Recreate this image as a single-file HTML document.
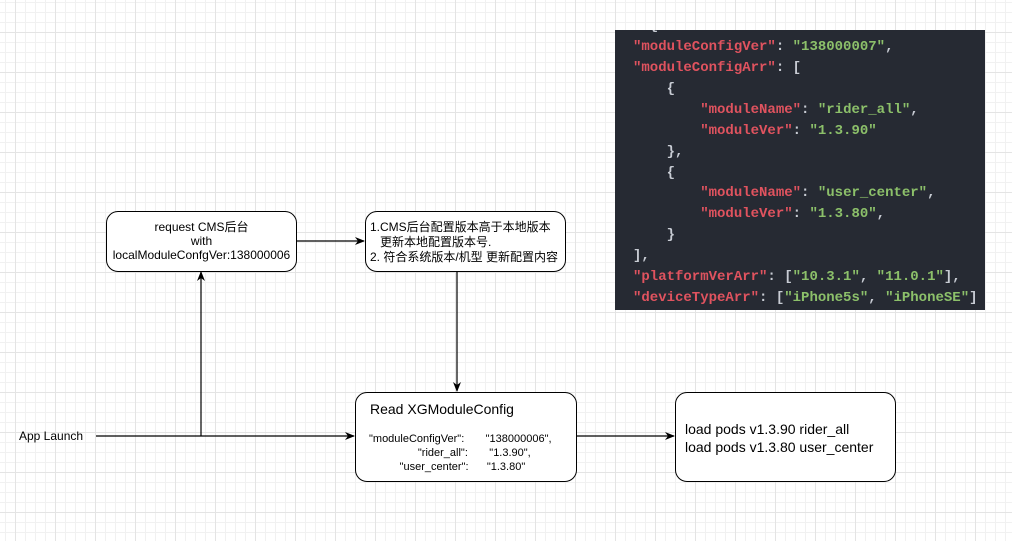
<!DOCTYPE html>
<html><head><meta charset="utf-8"><style>
html,body{margin:0;padding:0}
body{width:1012px;height:541px;position:relative;overflow:hidden;background:#fff;
background-image:
linear-gradient(to right,#e4e4e4 1px,transparent 1px),
linear-gradient(to bottom,#e4e4e4 1px,transparent 1px),
linear-gradient(to right,#f1f1f1 1px,transparent 1px),
linear-gradient(to bottom,#f1f1f1 1px,transparent 1px);
background-size:40px 40px,40px 40px,10px 10px,10px 10px;
background-position:15px 32px,15px 32px,5px 2px,5px 2px;
font-family:"Liberation Sans","Noto Sans CJK SC",sans-serif;color:#000}
.box{position:absolute;border:1px solid #000;border-radius:12px;background:#fff;box-sizing:border-box}
.t{position:absolute;white-space:pre;font-size:12px}
.code{position:absolute;left:615px;top:30px;width:370px;height:280px;background:#262a33;overflow:hidden;
font-family:"Liberation Mono","DejaVu Sans Mono",monospace;font-size:14px;font-weight:bold;line-height:20.9px}
.code div{position:absolute;left:0;white-space:pre}
.k{color:#e0535f}.s{color:#8cc06a}.p{color:#c8ccd4}
</style></head><body>
<div class="code">
<div style="top:-14px;left:18px"><span class="p">  {</span></div>
<div style="top:7px;left:18px"><span class="k">"moduleConfigVer"</span><span class="p">: </span><span class="s">"138000007"</span><span class="p">,</span></div>
<div style="top:28px;left:18px"><span class="k">"moduleConfigArr"</span><span class="p">: [</span></div>
<div style="top:49px;left:18px"><span class="p">    {</span></div>
<div style="top:70px;left:18px"><span class="p">        </span><span class="k">"moduleName"</span><span class="p">: </span><span class="s">"rider_all"</span><span class="p">,</span></div>
<div style="top:91px;left:18px"><span class="p">        </span><span class="k">"moduleVer"</span><span class="p">: </span><span class="s">"1.3.90"</span></div>
<div style="top:112px;left:18px"><span class="p">    },</span></div>
<div style="top:133px;left:18px"><span class="p">    {</span></div>
<div style="top:153px;left:18px"><span class="p">        </span><span class="k">"moduleName"</span><span class="p">: </span><span class="s">"user_center"</span><span class="p">,</span></div>
<div style="top:174px;left:18px"><span class="p">        </span><span class="k">"moduleVer"</span><span class="p">: </span><span class="s">"1.3.80"</span><span class="p">,</span></div>
<div style="top:195px;left:18px"><span class="p">    }</span></div>
<div style="top:216px;left:18px"><span class="p">],</span></div>
<div style="top:237px;left:18px"><span class="k">"platformVerArr"</span><span class="p">: [</span><span class="s">"10.3.1"</span><span class="p">, </span><span class="s">"11.0.1"</span><span class="p">],</span></div>
<div style="top:258px;left:18px"><span class="k">"deviceTypeArr"</span><span class="p">: [</span><span class="s">"iPhone5s"</span><span class="p">, </span><span class="s">"iPhoneSE"</span><span class="p">]</span></div>
</div>

<svg style="position:absolute;left:0;top:0" width="1012" height="541">
<defs><marker id="a" markerWidth="10" markerHeight="8" refX="9" refY="4" orient="auto" markerUnits="userSpaceOnUse"><path d="M0,0 L10,4 L0,8 L3,4 z" fill="#000"/></marker></defs>
<g stroke="#000" stroke-width="1.2" fill="none">
<line x1="96" y1="436" x2="354" y2="436" marker-end="url(#a)"/>
<line x1="201" y1="436" x2="201" y2="272" marker-end="url(#a)"/>
<line x1="296" y1="241" x2="364" y2="241" marker-end="url(#a)"/>
<line x1="457" y1="271" x2="457" y2="391" marker-end="url(#a)"/>
<line x1="576" y1="436" x2="674" y2="436" marker-end="url(#a)"/>
</g></svg>

<div class="t" style="left:19px;top:429px">App Launch</div>

<div class="box" style="left:106px;top:211px;width:191px;height:61px"></div>
<div class="t" style="left:106px;top:220px;width:191px;text-align:center;line-height:14px">request CMS后台
with
localModuleConfgVer:138000006</div>

<div class="box" style="left:365px;top:211px;width:201px;height:61px"></div>
<div class="t" style="left:370px;top:220px;line-height:15px">1.CMS后台配置版本高于本地版本
   更新本地配置版本号.
2. 符合系统版本/机型 更新配置内容</div>

<div class="box" style="left:355px;top:392px;width:222px;height:90px"></div>
<div class="t" style="left:370px;top:401px;font-size:14px">Read XGModuleConfig</div>
<div class="t" style="left:369px;top:432px;font-size:11px;line-height:14px">"moduleConfigVer":       "138000006",
                "rider_all":       "1.3.90",
          "user_center":      "1.3.80"</div>

<div class="box" style="left:675px;top:392px;width:221px;height:90px"></div>
<div class="t" style="left:685px;top:420px;font-size:14px;line-height:18px">load pods v1.3.90 rider_all
load pods v1.3.80 user_center</div>
</body></html>
